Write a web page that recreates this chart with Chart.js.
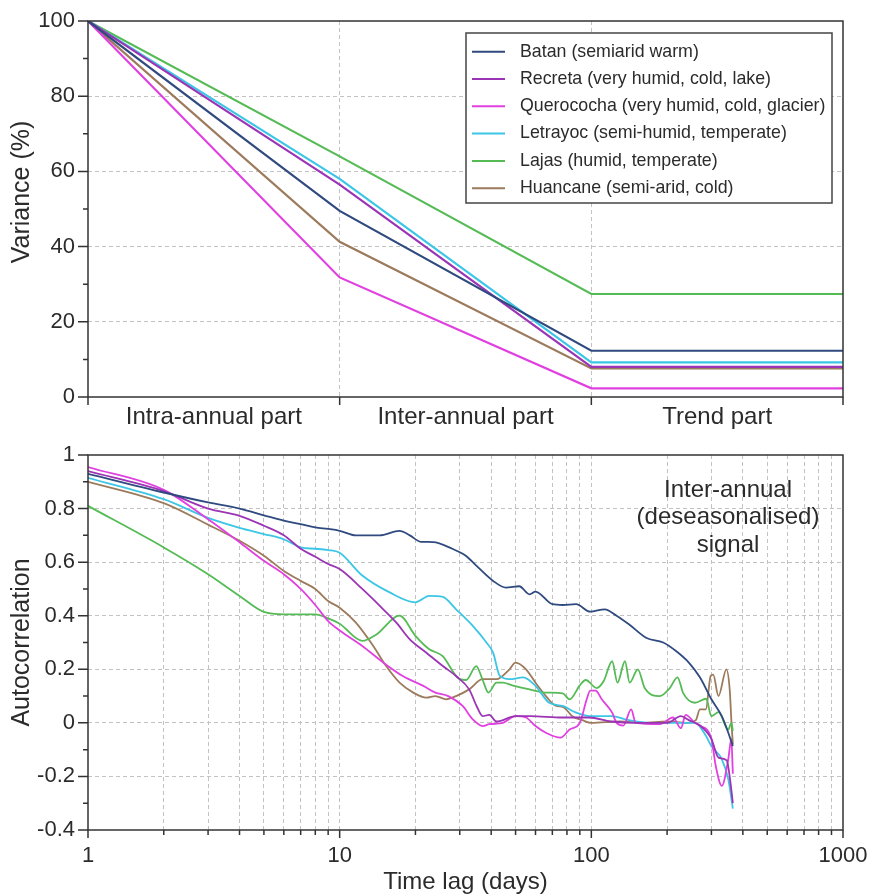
<!DOCTYPE html>
<html>
<head>
<meta charset="utf-8">
<script src="https://cdn.jsdelivr.net/npm/chart.js@4.4.1/dist/chart.umd.min.js"></script>
<style>
  body { margin: 0; background: #fff; }
  #wrap { position: relative; width: 871px; height: 894px; }
  #topChart { position: absolute; left: 0; top: 0; }
  #bottomChart { position: absolute; left: 0; top: 440px; }
</style>
</head>
<body>
<div id="wrap">
  <canvas id="topChart" width="871" height="440"></canvas>
  <canvas id="bottomChart" width="871" height="454"></canvas>
</div>
<script>
const FONT = "'Liberation Sans', Arial, sans-serif"
const TXT = '#2b2b2b'
const GRID = '#c2c2c2'

const stations = [
  'Batan (semiarid warm)',
  'Recreta (very humid, cold, lake)',
  'Querococha (very humid, cold, glacier)',
  'Letrayoc (semi-humid, temperate)',
  'Lajas (humid, temperate)',
  'Huancane (semi-arid, cold)'
]
const colors = ['#2f4a7f', '#9b34b5', '#e040e0', '#3cc6e6', '#55bb55', '#9c7a5c']

// top panel: variance split
const partPos = [0, 1, 2, 3]
const partLabels = ['Intra-annual part', 'Inter-annual part', 'Trend part']
const varBatan = [100, 49.5, 12.3, 12.3]
const varRecreta = [100, 56.5, 8, 8]
const varQuerococha = [100, 31.8, 2.3, 2.3]
const varLetrayoc = [100, 58, 9.2, 9.2]
const varLajas = [100, 64, 27.4, 27.4]
const varHuancane = [100, 41.3, 7.6, 7.6]
const varMajor = [0, 20, 40, 60, 80, 100]
const varMinor = [10, 30, 50, 70, 90]

// bottom panel: autocorrelation vs lag
const lagBatan = [1, 2, 3, 4, 5, 6, 7, 8, 9, 10, 11.6, 14.4, 17.3, 19, 21, 23.5, 28, 31.7, 35, 40.7, 45.8, 51.7, 56.8, 60, 70, 77, 87, 99, 113, 126, 141, 165, 193, 217, 244, 270, 300, 330, 350, 365]
const acBatan = [0.93, 0.86, 0.823, 0.8, 0.775, 0.755, 0.742, 0.73, 0.724, 0.717, 0.7, 0.7, 0.717, 0.7, 0.676, 0.675, 0.65, 0.624, 0.586, 0.53, 0.505, 0.51, 0.48, 0.49, 0.443, 0.44, 0.443, 0.415, 0.424, 0.4, 0.368, 0.318, 0.3, 0.268, 0.225, 0.17, 0.088, 0.025, -0.037, -0.087]

const lagRecreta = [1, 2, 3, 4, 5, 6, 7, 8, 9, 10, 12.3, 14.9, 16.8, 19, 22.1, 25.7, 29, 32.7, 35, 37, 39.3, 42, 50, 57, 77, 98, 120, 150, 200, 227, 244, 270, 300, 320, 345, 360, 365]
const acRecreta = [0.94, 0.865, 0.8, 0.773, 0.736, 0.7, 0.65, 0.62, 0.593, 0.574, 0.5, 0.424, 0.374, 0.312, 0.262, 0.212, 0.175, 0.125, 0.063, 0.025, 0.03, 0.005, 0.025, 0.025, 0.02, 0.02, 0.005, 0, 0, 0.025, 0.01, -0.01, -0.06, -0.13, -0.14, -0.25, -0.3]

const lagQuerococha = [1, 2, 3, 4, 5, 6, 7, 8, 9, 10, 12.3, 14.9, 17.8, 21.5, 24, 27, 30.8, 33.8, 37, 39.3, 44.5, 50, 55, 60, 66, 75.5, 82, 90, 96, 99, 104, 110, 121, 126, 134, 144, 150, 187, 211, 227, 237, 258, 270, 300, 312, 330, 350, 360, 365]
const acQuerococha = [0.955, 0.87, 0.76, 0.674, 0.605, 0.555, 0.5, 0.44, 0.38, 0.345, 0.287, 0.225, 0.175, 0.138, 0.113, 0.1, 0.063, 0.013, -0.012, -0.005, 0, 0.025, 0.02, -0.012, -0.037, -0.055, -0.025, 0, 0.09, 0.12, 0.12, 0.088, 0.038, 0, -0.01, 0.05, 0, -0.005, 0.02, -0.02, 0.03, 0, -0.01, -0.06, -0.16, -0.235, -0.136, -0.06, -0.19]

const lagLetrayoc = [1, 2, 3, 4, 5, 6, 7, 8, 9, 10, 12.3, 15.8, 20, 22.7, 25.7, 29, 33.8, 38.3, 40.7, 43.3, 47.3, 53.6, 60, 68, 77, 87, 99, 120, 141, 170, 220, 258, 286, 300, 330, 350, 365]
const acLetrayoc = [0.915, 0.835, 0.765, 0.728, 0.705, 0.685, 0.655, 0.65, 0.645, 0.635, 0.55, 0.487, 0.45, 0.474, 0.47, 0.424, 0.362, 0.3, 0.262, 0.175, 0.163, 0.17, 0.138, 0.075, 0.063, 0.038, 0.025, 0.025, 0.01, 0, 0, 0, -0.05, -0.087, -0.136, -0.21, -0.32]

const lagLajas = [1, 2, 3, 4, 5, 6, 7, 8, 9, 10, 12.3, 14, 17.3, 20, 22.7, 25.6, 30, 31.8, 34.9, 37, 39, 42, 44.5, 48.5, 56.8, 66, 77, 82, 90, 95, 105, 112, 121, 127, 136, 142, 153, 163, 187, 205, 220, 232, 258, 286, 300, 320, 350, 360, 365]
const acLajas = [0.81, 0.655, 0.555, 0.474, 0.414, 0.405, 0.405, 0.405, 0.39, 0.37, 0.306, 0.33, 0.4, 0.325, 0.275, 0.25, 0.163, 0.16, 0.212, 0.16, 0.113, 0.15, 0.15, 0.14, 0.125, 0.113, 0.11, 0.088, 0.14, 0.16, 0.13, 0.156, 0.23, 0.15, 0.23, 0.15, 0.2, 0.13, 0.1, 0.13, 0.17, 0.11, 0.075, 0.09, 0.025, 0.04, -0.025, 0, -0.03]

const lagHuancane = [1, 2, 3, 4, 5, 6, 7, 8, 9, 10, 11.6, 13.6, 15.3, 17.3, 19.6, 22.1, 24, 26.5, 29, 32.7, 37, 42, 47.3, 50, 55, 60, 66, 72.5, 77, 84, 92, 100, 130, 160, 200, 240, 260, 270, 285, 298, 305, 320, 344, 355, 360, 365]
const acHuancane = [0.9, 0.82, 0.74, 0.68, 0.624, 0.567, 0.53, 0.5, 0.455, 0.43, 0.374, 0.287, 0.212, 0.15, 0.113, 0.094, 0.1, 0.088, 0.1, 0.125, 0.163, 0.163, 0.2, 0.225, 0.2, 0.15, 0.1, 0.063, 0.06, 0.025, 0.01, 0, 0.005, 0, 0.005, 0, 0.01, 0.05, 0.05, 0.175, 0.18, 0.1, 0.2, 0.12, 0.01, -0.08]

const lagTicks = [1, 2, 3, 4, 5, 6, 7, 8, 9, 10, 20, 30, 40, 50, 60, 70, 80, 90, 100, 200, 300, 400, 500, 600, 700, 800, 900, 1000]
const lagMajor = [1, 10, 100, 1000]
const acMajor = [-0.4, -0.2, 0, 0.2, 0.4, 0.6, 0.8, 1]
const acMinor = [-0.3, -0.1, 0.1, 0.3, 0.5, 0.7, 0.9]
const noteLines = ['Inter-annual', '(deseasonalised)', 'signal']

const pairs = (xs, ys) => xs.map((x, i) => ({ x: x, y: ys[i] }))

// frame box + outward tick marks, drawn from the chart's own scales
const frame = {
  id: 'frame',
  afterDraw(chart, args, opts) {
    const { ctx, chartArea: a, scales } = chart
    ctx.save()
    ctx.strokeStyle = '#333'
    ctx.lineWidth = 1.5
    ctx.strokeRect(a.left, a.top, a.right - a.left, a.bottom - a.top)
    ctx.beginPath()
    opts.xTicks.forEach(([v, len]) => {
      const px = scales.x.getPixelForValue(v)
      ctx.moveTo(px, a.bottom)
      ctx.lineTo(px, a.bottom + len)
    })
    opts.yTicks.forEach(([v, len]) => {
      const py = scales.y.getPixelForValue(v)
      ctx.moveTo(a.left - len, py)
      ctx.lineTo(a.left, py)
    })
    ctx.stroke()
    if (opts.yTitle) {
      ctx.translate(opts.yTitle.x, opts.yTitle.y)
      ctx.rotate(-Math.PI / 2)
      ctx.font = '25px ' + FONT
      ctx.fillStyle = TXT
      ctx.textAlign = 'center'
      ctx.textBaseline = 'middle'
      ctx.fillText(opts.yTitle.text, 0, 0)
    }
    ctx.restore()
  }
}

const legendBox = {
  id: 'legendBox',
  afterDatasetsDraw(chart) {
    const { ctx, chartArea: a } = chart
    const x = a.right - 377, y = a.top + 12, w = 366, h = 170
    ctx.save()
    ctx.fillStyle = '#fff'
    ctx.fillRect(x, y, w, h)
    ctx.strokeStyle = '#444'
    ctx.lineWidth = 1.5
    ctx.strokeRect(x, y, w, h)
    ctx.font = '17.8px ' + FONT
    ctx.textBaseline = 'middle'
    chart.data.datasets.forEach((ds, i) => {
      const yy = y + 18.7 + i * 27.3
      ctx.strokeStyle = ds.borderColor
      ctx.lineWidth = 2
      ctx.beginPath()
      ctx.moveTo(x + 6, yy)
      ctx.lineTo(x + 39, yy)
      ctx.stroke()
      ctx.fillStyle = TXT
      ctx.fillText(ds.label, x + 54, yy)
    })
    ctx.restore()
  }
}

const note = {
  id: 'note',
  afterDatasetsDraw(chart) {
    const { ctx, chartArea: a } = chart
    ctx.save()
    ctx.font = '24px ' + FONT
    ctx.fillStyle = TXT
    ctx.textAlign = 'center'
    ctx.textBaseline = 'middle'
    noteLines.forEach((t, i) => ctx.fillText(t, a.right - 115, a.top + 35 + i * 27.5))
    ctx.restore()
  }
}

const fitX = h => s => { s.height = h; s.paddingLeft = 0; s.paddingRight = 0 }
const fitY = w => s => { s.width = w; s.paddingTop = 0; s.paddingBottom = 0 }

// ---- top chart
const topSeries = [varBatan, varRecreta, varQuerococha, varLetrayoc, varLajas, varHuancane]
new Chart(document.getElementById('topChart'), {
  type: 'line',
  data: {
    datasets: topSeries.map((vals, i) => ({
      label: stations[i],
      data: pairs(partPos, vals),
      borderColor: colors[i],
      borderWidth: 2.2,
      pointRadius: 0,
      tension: 0
    }))
  },
  options: {
    responsive: false,
    animation: false,
    devicePixelRatio: 1,
    layout: { padding: { left: 0, right: 28, top: 21, bottom: 0 } },
    plugins: {
      legend: { display: false },
      tooltip: { enabled: false },
      frame: {
        xTicks: partPos.map(v => [v, 8]),
        yTicks: varMajor.map(v => [v, 10]).concat(varMinor.map(v => [v, 5])),
        yTitle: { text: 'Variance (%)', x: 22, y: 192 }
      }
    },
    scales: {
      x: {
        type: 'linear', min: 0, max: 3,
        afterBuildTicks: s => { s.ticks = [0, 0.5, 1, 1.5, 2, 2.5, 3].map(v => ({ value: v })) },
        afterFit: fitX(43),
        ticks: {
          autoSkip: false, maxRotation: 0, padding: 6, color: TXT,
          font: { family: FONT, size: 24 },
          callback: v => (v % 1 === 0.5 ? partLabels[Math.floor(v)] : '')
        },
        grid: {
          drawTicks: false,
          color: c => (c.tick && (c.tick.value === 1 || c.tick.value === 2) ? GRID : 'rgba(0,0,0,0)')
        },
        border: { display: false, dash: [4, 3] }
      },
      y: {
        min: 0, max: 100,
        afterBuildTicks: s => { s.ticks = varMajor.concat(varMinor).sort((a, b) => a - b).map(v => ({ value: v })) },
        afterFit: fitY(88),
        ticks: {
          autoSkip: false, padding: 13, color: TXT,
          font: { family: FONT, size: 22 },
          callback: v => (varMajor.includes(v) ? String(v) : '')
        },
        grid: {
          drawTicks: false,
          color: c => (c.tick && c.tick.value > 0 && c.tick.value < 100 && c.tick.value % 20 === 0 ? GRID : 'rgba(0,0,0,0)')
        },
        border: { display: false, dash: [4, 3] }
      }
    }
  },
  plugins: [frame, legendBox]
})

// ---- bottom chart
const bottomSeries = [
  [lagBatan, acBatan],
  [lagRecreta, acRecreta],
  [lagQuerococha, acQuerococha],
  [lagLetrayoc, acLetrayoc],
  [lagLajas, acLajas],
  [lagHuancane, acHuancane]
]
new Chart(document.getElementById('bottomChart'), {
  type: 'line',
  data: {
    datasets: bottomSeries.map(([lags, vals], i) => ({
      label: stations[i],
      data: pairs(lags, vals),
      borderColor: colors[i],
      borderWidth: 1.8,
      pointRadius: 0,
      cubicInterpolationMode: 'monotone'
    }))
  },
  options: {
    responsive: false,
    animation: false,
    devicePixelRatio: 1,
    layout: { padding: { left: 0, right: 28, top: 15, bottom: 0 } },
    plugins: {
      legend: { display: false },
      tooltip: { enabled: false },
      frame: {
        xTicks: lagTicks.map(v => [v, lagMajor.includes(v) ? 8 : 5]),
        yTicks: acMajor.map(v => [v, 10]).concat(acMinor.map(v => [v, 5]))
      }
    },
    scales: {
      x: {
        type: 'logarithmic', min: 1, max: 1000,
        afterBuildTicks: s => { s.ticks = lagTicks.map(v => ({ value: v })) },
        afterFit: fitX(64),
        ticks: {
          autoSkip: false, maxRotation: 0, padding: 13, color: TXT,
          font: { family: FONT, size: 22 },
          callback: v => (lagMajor.includes(v) ? String(v) : '')
        },
        grid: {
          drawTicks: false,
          color: c => (c.tick && c.tick.value > 1 && c.tick.value < 1000 ? GRID : 'rgba(0,0,0,0)')
        },
        border: { display: false, dash: [4, 3] },
        title: {
          display: true, text: 'Time lag (days)', color: TXT,
          font: { family: FONT, size: 24, lineHeight: 1 },
          padding: { top: 0, bottom: 0 }
        }
      },
      y: {
        min: -0.4, max: 1,
        afterBuildTicks: s => { s.ticks = acMajor.concat(acMinor).sort((a, b) => a - b).map(v => ({ value: v })) },
        afterFit: fitY(88),
        ticks: {
          autoSkip: false, padding: 13, color: TXT,
          font: { family: FONT, size: 22 },
          callback: v => (acMajor.includes(v) ? String(v) : '')
        },
        grid: {
          drawTicks: false,
          color: c => (c.tick && acMajor.includes(c.tick.value) && c.tick.value > -0.4 && c.tick.value < 1 ? GRID : 'rgba(0,0,0,0)')
        },
        border: { display: false, dash: [4, 3] },
        title: {
          display: true, text: 'Autocorrelation', color: TXT,
          font: { family: FONT, size: 25, lineHeight: 1 },
          padding: { top: 10, bottom: 0 }
        }
      }
    }
  },
  plugins: [frame, note]
})
</script>
</body>
</html>
